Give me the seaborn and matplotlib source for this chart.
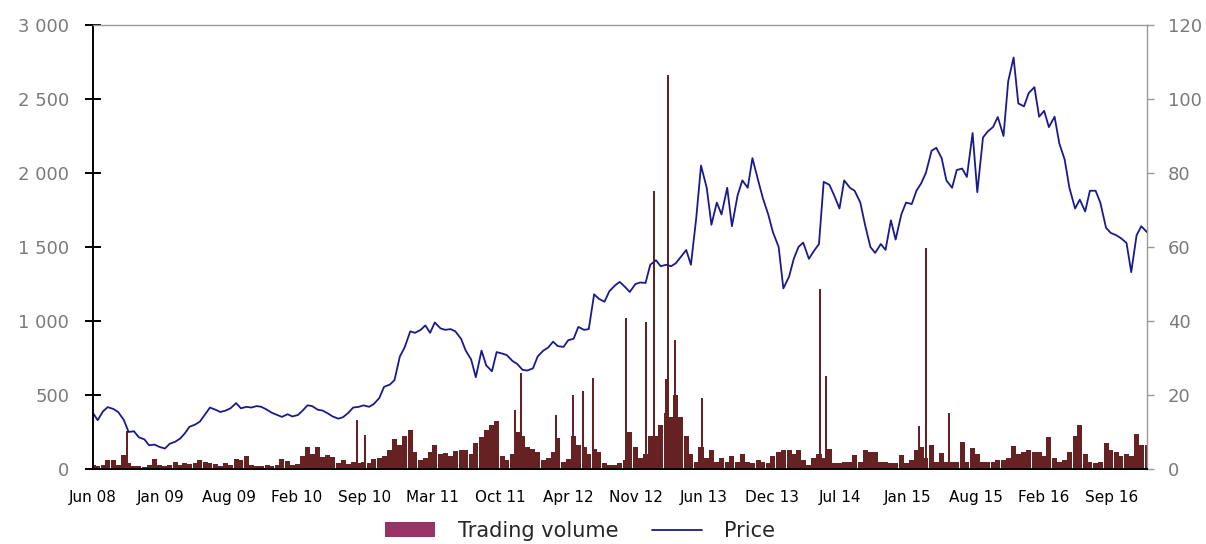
import pandas as pd
import numpy as np
import matplotlib
matplotlib.use("Agg")
import matplotlib.pyplot as plt
import seaborn as sns
from matplotlib.patches import Patch
from matplotlib.lines import Line2D

# semi-monthly observations, Jun 2008 - Jan 2017
start = "2008-06-01"
n_obs = 207

price = [
    378, 330, 390, 418, 405, 385, 330, 250, 255, 215, 200, 160, 165, 150, 138, 170, 185, 205, 240, 285,
    300, 320, 370, 415, 400, 385, 395, 410, 445, 410, 420, 415, 425, 420, 400, 380, 365, 352, 370, 355,
    365, 395, 430, 425, 400, 395, 375, 355, 340, 350, 380, 415, 420, 430, 420, 440, 480, 555, 570, 600,
    760, 820, 930, 920, 940, 970, 920, 990, 950, 940, 945, 930, 880, 800, 740, 620, 800, 700, 660, 790,
    780, 770, 730, 710, 670, 665, 680, 760, 800, 820, 860, 830, 825, 870, 880, 960, 940, 945, 1180, 1150,
    1130, 1200, 1240, 1264, 1230, 1196, 1250, 1260, 1257, 1380, 1410, 1370, 1380, 1370, 1390, 1430, 1480, 1380, 1700, 2050,
    1900, 1650, 1800, 1720, 1900, 1640, 1850, 1950, 1900, 2100, 1950, 1830, 1720, 1600, 1500, 1220, 1300, 1420, 1500, 1530,
    1420, 1470, 1520, 1940, 1920, 1850, 1760, 1950, 1900, 1880, 1800, 1650, 1500, 1460, 1520, 1480, 1680, 1550, 1720, 1800,
    1790, 1880, 1930, 2000, 2150, 2170, 2100, 1950, 1900, 2020, 2030, 1973, 2270, 1870, 2240, 2280, 2311, 2378, 2250, 2620,
    2780, 2470, 2450, 2540, 2580, 2380, 2420, 2310, 2380, 2200, 2090, 1900, 1760, 1820, 1740, 1880, 1880, 1800, 1630, 1595,
    1580, 1560, 1527, 1330, 1580, 1640, 1600,
]

volume = [
    1.0, 0.8, 1.2, 2.3, 2.3, 1.0, 3.7, 1.5, 0.7, 0.8, 0.6, 1.2, 2.6, 1.0, 0.7, 1.0, 2.0, 1.2, 1.6, 1.4,
    1.6, 2.4, 1.8, 1.6, 1.3, 0.9, 1.5, 1.2, 2.7, 2.5, 3.5, 1.0, 0.9, 0.8, 1.0, 0.9, 1.2, 2.7, 2.2, 1.2,
    1.3, 3.5, 6.0, 4.0, 5.9, 3.2, 3.8, 3.2, 1.5, 2.3, 1.3, 2.0, 1.5, 2.0, 1.5, 2.7, 3.0, 3.5, 5.0, 8.0,
    6.5, 9.0, 10.5, 4.5, 2.5, 3.0, 4.5, 6.5, 4.0, 4.2, 3.5, 4.8, 5.0, 5.2, 4.0, 7.0, 8.7, 10.5, 12.0, 13.0,
    3.5, 2.5, 4.0, 10.0, 9.0, 6.0, 5.5, 4.5, 2.5, 3.0, 4.5, 8.5, 2.0, 2.8, 9.0, 6.5, 6.0, 4.0, 5.5, 4.5,
    1.5, 1.0, 1.0, 1.5, 2.5, 10.0, 6.0, 3.0, 4.0, 9.0, 9.0, 12.0, 15.0, 14.0, 20.0, 14.0, 9.0, 4.0, 2.0, 6.0,
    3.0, 5.0, 2.0, 3.0, 2.0, 3.5, 2.0, 4.0, 2.0, 1.5, 2.5, 2.0, 1.5, 3.5, 4.5, 5.2, 5.2, 4.0, 5.2, 2.5,
    1.0, 3.0, 4.0, 3.0, 5.5, 1.5, 1.5, 2.0, 2.0, 3.9, 2.0, 5.2, 4.5, 4.5, 2.0, 2.0, 1.5, 1.5, 3.9, 1.5,
    2.5, 5.0, 6.0, 3.0, 6.6, 2.0, 4.3, 2.0, 2.0, 2.0, 7.2, 2.0, 5.7, 4.0, 2.0, 2.0, 2.0, 2.5, 2.5, 3.0,
    6.3, 4.0, 4.5, 5.0, 4.5, 4.5, 3.5, 8.6, 3.0, 2.0, 2.5, 4.5, 9.0, 12.0, 4.0, 2.0, 1.5, 2.0, 7.0, 5.0,
    4.5, 3.5, 4.0, 3.5, 9.5, 6.5, 6.5,
]

# single-day volume spikes
spike_dates = [
    "2008-09-11", "2010-07-26", "2010-08-19", "2011-11-08", "2011-11-27", "2012-03-09",
    "2012-04-29", "2012-05-29", "2012-06-27", "2012-10-03", "2012-12-01", "2012-12-27",
    "2013-02-01", "2013-02-07", "2013-02-28", "2013-05-17", "2014-05-04", "2014-05-22",
    "2015-02-22", "2015-03-14", "2015-05-23",
]
spike_volume = [
    10.2, 13.2, 9.3, 16.0, 26.0, 14.6, 20.0, 21.0, 24.6, 40.7, 39.8, 75.0,
    24.3, 106.6, 34.9, 19.2, 48.7, 25.0, 11.5, 59.6, 15.0,
]

tick_labels = ["Jun 08", "Jan 09", "Aug 09", "Feb 10", "Sep 10", "Mar 11", "Oct 11", "Apr 12",
               "Nov 12", "Jun 13", "Dec 13", "Jul 14", "Jan 15", "Aug 15", "Feb 16", "Sep 16"]

dates = pd.date_range(start, periods=n_obs, freq="SMS")
df = pd.DataFrame({"date": dates, "price": price, "volume": volume})
spikes = pd.DataFrame({"date": pd.to_datetime(spike_dates), "volume": spike_volume})

sns.set_style("white")
plt.rcParams["font.family"] = ["DejaVu Sans"]

fig = plt.figure(figsize=(12.06, 5.44), dpi=100)
ax = fig.add_axes([0.0771, 0.1379, 0.8740, 0.8162])
ax2 = ax.twinx()

bar_col = "#662222"
line_col = "#1a1a8c"

ax2.bar(df["date"], df["volume"], width=15, color=bar_col, linewidth=0, align="center")
ax2.bar(spikes["date"], spikes["volume"], width=6, color=bar_col, linewidth=0)
sns.lineplot(data=df, x="date", y="price", ax=ax, color=line_col, linewidth=1.3)

# line in front of bars
ax.set_zorder(ax2.get_zorder() + 1)
ax.patch.set_visible(False)

x0 = pd.Timestamp("2008-06-01")
x1 = pd.Timestamp("2017-01-01")
ax.set_xlim(x0, x1)
ticks = [x0 + pd.Timedelta(days=202 * k) for k in range(len(tick_labels))]
ax.set_xticks(ticks)
ax.set_xticklabels(tick_labels)

ax.set_ylim(0, 3000)
ax.set_yticks(range(0, 3001, 500))
ax.set_yticklabels(["0", "500", "1 000", "1 500", "2 000", "2 500", "3 000"])
ax2.set_ylim(0, 120)
ax2.set_yticks(range(0, 121, 20))
ax.set_xlabel("")
ax.set_ylabel("")
ax2.set_ylabel("")

for s in ["left", "bottom"]:
    ax.spines[s].set_color("black")
    ax.spines[s].set_linewidth(1.4)
ax.spines["top"].set_color("#999999")
ax.spines["top"].set_linewidth(1.0)
ax.spines["right"].set_visible(False)
for s in ["left", "bottom", "top"]:
    ax2.spines[s].set_visible(False)
ax2.spines["right"].set_color("#999999")
ax2.spines["right"].set_linewidth(1.0)

ax.tick_params(axis="y", direction="inout", length=12, width=1.4, color="black",
               labelcolor="#7a7a7a", labelsize=13, pad=11)
ax.tick_params(axis="x", direction="out", length=7, width=1.4, color="black",
               labelcolor="black", labelsize=11, pad=8)
ax2.tick_params(axis="y", direction="out", length=5, width=1.0, color="#999999",
                labelcolor="#7a7a7a", labelsize=13, pad=10)

handles = [Patch(facecolor="#993366", edgecolor="none"),
           Line2D([0], [0], color=line_col, linewidth=1.3)]
fig.legend(handles, ["Trading volume", "Price"], loc="center", bbox_to_anchor=(0.481, 0.024),
           ncol=2, frameon=False, fontsize=15, handlelength=2.4, handletextpad=1.1,
           columnspacing=1.6, borderaxespad=0)

fig.savefig("out.png", dpi=100)
